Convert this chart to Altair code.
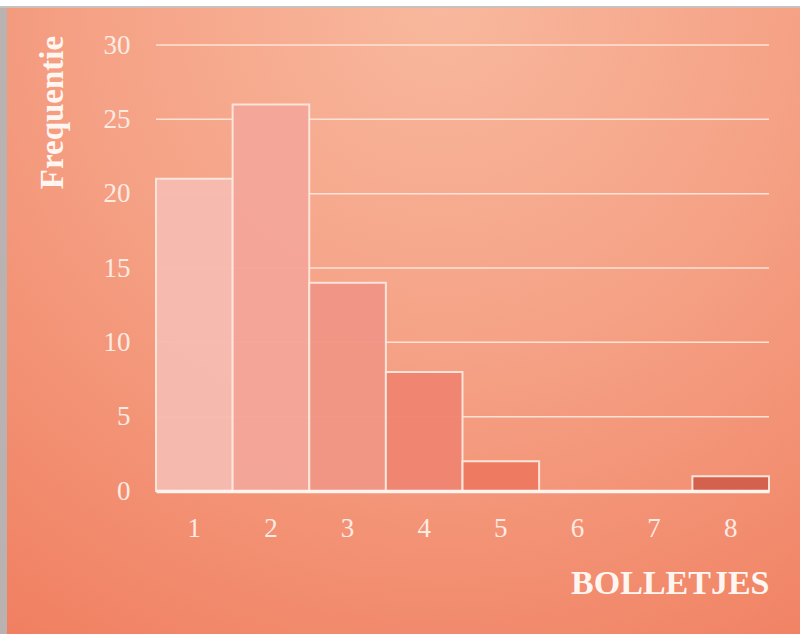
import altair as alt
import pandas as pd

# Histogram data: number of dots (bolletjes) and how often each occurred
bolletjes = [1, 2, 3, 4, 5, 6, 7, 8]
frequentie = [21, 26, 14, 8, 2, 0, 0, 1]
bar_colors = ["#f7bbb0", "#f4a699", "#f19686", "#f08671", "#ee7a62",
              "#ec7058", "#e2684f", "#d4604d"]
y_ticks = [0, 5, 10, 15, 20, 25, 30]

df = pd.DataFrame({"bolletjes": bolletjes, "frequentie": frequentie})
grid_df = pd.DataFrame({"frequentie": y_ticks})

W, H = 613, 446
PAD = {"left": 156, "top": 45, "right": 31, "bottom": 143}
SERIF = "Liberation Serif"
TEXT = "#fdebe3"

one = alt.Data(values=[{}])

# Warm radial backdrop behind the whole chart
backdrop = alt.Chart(one).mark_rect(
    color=alt.Gradient(
        gradient="radial",
        x1=0.55, y1=0.1, r1=0.0,
        x2=0.55, y2=0.1, r2=1.0,
        stops=[
            alt.GradientStop(offset=0.0, color="#f8b89d"),
            alt.GradientStop(offset=0.45, color="#f5a185"),
            alt.GradientStop(offset=1.0, color="#f07d5e"),
        ],
    )
).encode(
    x=alt.value(-PAD["left"] + 7), x2=alt.value(W + PAD["right"]),
    y=alt.value(-PAD["top"] + 8), y2=alt.value(H + PAD["bottom"]),
)

# Thin grey frame on the left and top edges
frame_left = alt.Chart(one).mark_rect(color="#b9b2b0").encode(
    x=alt.value(-PAD["left"]), x2=alt.value(-PAD["left"] + 7),
    y=alt.value(-PAD["top"] + 6), y2=alt.value(H + PAD["bottom"]),
)
frame_top = alt.Chart(one).mark_rect(color="#c9c1bd").encode(
    x=alt.value(-PAD["left"]), x2=alt.value(W + PAD["right"]),
    y=alt.value(-PAD["top"] + 6), y2=alt.value(-PAD["top"] + 8),
)

x_enc = alt.X(
    "bolletjes:O",
    scale=alt.Scale(paddingInner=0, paddingOuter=0),
    axis=alt.Axis(
        title="BOLLETJES", titleFont=SERIF, titleFontSize=34,
        titleFontWeight="bold", titleColor="#fff6f2",
        titleAlign="right", titleBaseline="alphabetic",
        titleX=W, titleY=102,
        labelAngle=0, labelFont=SERIF, labelFontSize=27,
        labelColor=TEXT, labelPadding=24, labelBaseline="top",
        ticks=False, grid=False,
        domainColor="#fff4ee", domainWidth=3.5, zindex=1,
    ),
)

y_scale = alt.Scale(domain=[0, 30], nice=False)
y_axis = alt.Axis(
    values=y_ticks, title="Frequentie", titleFont=SERIF,
    titleFontSize=33, titleFontWeight="bold", titleColor="#fff6f2",
    titleAngle=-90, titleX=-104, titleY=67, titleAlign="center",
    titleBaseline="middle",
    labelFont=SERIF, labelFontSize=27, labelColor=TEXT,
    labelPadding=26, ticks=False, domain=False, grid=False,
    zindex=1,
)

grid = alt.Chart(grid_df).mark_rule(color="#fde3d7", strokeWidth=1.5).encode(
    y=alt.Y("frequentie:Q", scale=y_scale, axis=y_axis),
)

bars = alt.Chart(df).mark_bar(
    stroke="#fde6dc", strokeWidth=2, opacity=0.97
).encode(
    x=x_enc,
    y=alt.Y("frequentie:Q", scale=y_scale, axis=y_axis),
    color=alt.Color(
        "bolletjes:O",
        scale=alt.Scale(domain=bolletjes, range=bar_colors),
        legend=None,
    ),
)

chart = alt.layer(backdrop, frame_left, frame_top, grid, bars).properties(
    width=W, height=H,
    autosize=alt.AutoSizeParams(type="none"),
    padding=PAD,
    background="#ffffff",
).configure_view(stroke=None)

chart.save("out.html", embed_options={"renderer": "svg", "actions": False})
